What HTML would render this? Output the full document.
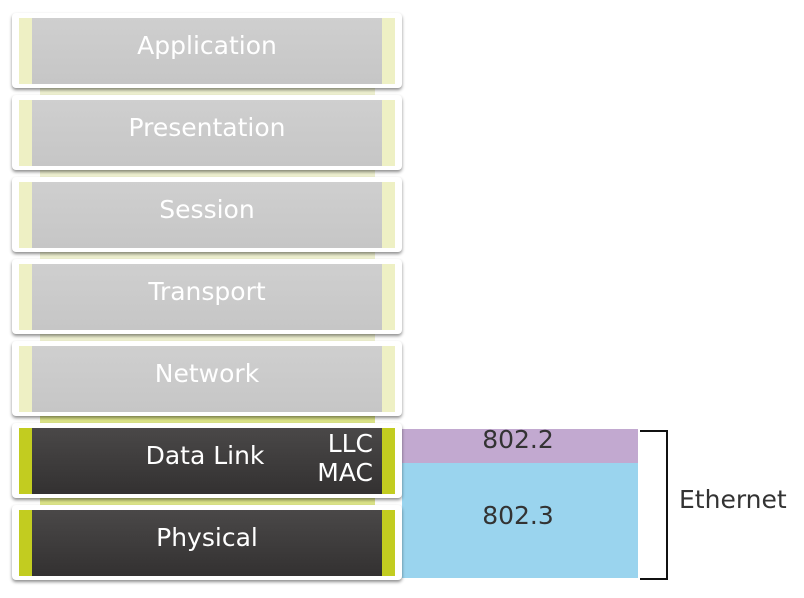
<!DOCTYPE html>
<html><head><style>
body{margin:0;width:804px;height:598px;background:#fff;position:relative;overflow:hidden;font-family:"DejaVu Sans","Liberation Sans",sans-serif;}
.o{position:absolute;left:12px;width:390px;height:75px;background:#fff;border-radius:4px;box-shadow:0 2px 3px rgba(0,0,0,.45);}
.i{position:absolute;left:7px;top:5px;width:376px;height:66px;}
.l,.r{position:absolute;top:0;width:13px;height:66px;}
.l{left:0}.r{right:0}
.t{position:absolute;left:0;right:0;top:0;line-height:56px;text-align:center;font-size:25px;color:#fff;}
.g .i{background:linear-gradient(#cfcfcf,#c6c6c6);}
.g .l,.g .r{background:#eef0c4;}
.d .i{background:linear-gradient(#4a4848,#333131);}
.d .l,.d .r{background:#c2cc20;}
.s{position:absolute;left:40px;width:335px;height:12px;}
</style></head><body>
<div class="s" style="top:86px;background:#eef0d0"></div>
<div class="s" style="top:168px;background:#eef0d0"></div>
<div class="s" style="top:250px;background:#eef0d0"></div>
<div class="s" style="top:332px;background:#eef0d0"></div>
<div class="s" style="top:414px;background:#dce488"></div>
<div class="s" style="top:496px;background:#dce488"></div>

<div class="o g" style="top:13px"><div class="i"><div class="l"></div><div class="r"></div><div class="t">Application</div></div></div>
<div class="o g" style="top:95px"><div class="i"><div class="l"></div><div class="r"></div><div class="t">Presentation</div></div></div>
<div class="o g" style="top:177px"><div class="i"><div class="l"></div><div class="r"></div><div class="t">Session</div></div></div>
<div class="o g" style="top:259px"><div class="i"><div class="l"></div><div class="r"></div><div class="t">Transport</div></div></div>
<div class="o g" style="top:341px"><div class="i"><div class="l"></div><div class="r"></div><div class="t">Network</div></div></div>

<div style="position:absolute;left:402px;top:429px;width:236px;height:34px;background:#c2a9d0;"></div>
<div style="position:absolute;left:402px;top:463px;width:236px;height:115px;background:#9ad4ee;"></div>
<div style="position:absolute;left:402px;top:425px;width:232px;text-align:center;font-size:25px;color:#333;">802.2</div>
<div style="position:absolute;left:402px;top:501px;width:232px;text-align:center;font-size:25px;color:#333;">802.3</div>
<div style="position:absolute;left:640px;top:430px;width:26px;height:146px;border:2px solid #111;border-left:none;"></div>
<div style="position:absolute;left:679px;top:485px;font-size:25px;color:#333;">Ethernet</div>

<div class="o d" style="top:423px"><div class="i"><div class="l"></div><div class="r"></div><div class="t" style="left:-2px;right:2px;">Data Link</div>
<div style="position:absolute;right:22px;top:1px;font-size:25px;color:#fff;line-height:29px;text-align:right;">LLC<br>MAC</div></div></div>
<div class="o d" style="top:505px"><div class="i"><div class="l"></div><div class="r"></div><div class="t">Physical</div></div></div>
</body></html>
